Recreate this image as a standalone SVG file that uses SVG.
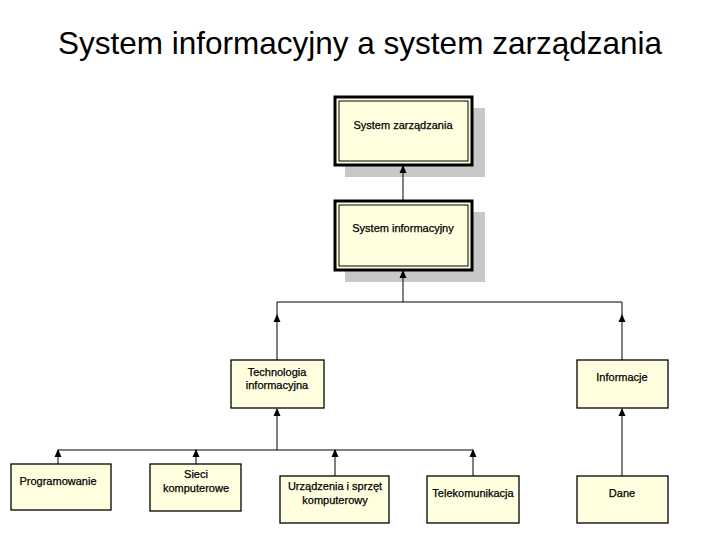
<svg xmlns="http://www.w3.org/2000/svg" width="720" height="540" viewBox="0 0 720 540">
<style>
.b{fill:#ffffe0;stroke:#000;stroke-width:1.3}
.t{font-family:"Liberation Sans",Arial,sans-serif;font-size:11px;text-anchor:middle;fill:#000;stroke:#000;stroke-width:0.25}
.c line{stroke:#000;stroke-width:1}
.c path{fill:#000}
</style>
<rect width="720" height="540" fill="#fff"/>
<text x="360" y="54" font-family="Liberation Sans,Arial,sans-serif" font-size="31.5" text-anchor="middle">System informacyjny a system zarządzania</text>
<g id="n1"><rect x="345" y="108" width="140" height="69" fill="#c8c8c8"/><rect x="335" y="97" width="137" height="68" fill="#ffffe0" stroke="#000" stroke-width="3"/><rect x="339" y="101" width="129" height="60" fill="none" stroke="#000" stroke-width="1"/><text class="t" x="403" y="129">System zarządzania</text></g>
<g id="n2"><rect x="345" y="212" width="140" height="70" fill="#c8c8c8"/><rect x="335" y="201" width="137" height="69" fill="#ffffe0" stroke="#000" stroke-width="3"/><rect x="339" y="205" width="129" height="61" fill="none" stroke="#000" stroke-width="1"/><text class="t" x="403" y="232">System informacyjny</text></g>
<g id="n3"><rect class="b" x="231" y="360" width="93" height="48"/><text class="t" x="277" y="376">Technologia</text><text class="t" x="277" y="389">informacyjna</text></g>
<g id="n4"><rect class="b" x="577" y="360" width="91" height="48"/><text class="t" x="622" y="381">Informacje</text></g>
<g id="n5"><rect class="b" x="11" y="464" width="100" height="46"/><text class="t" x="58" y="485">Programowanie</text></g>
<g id="n6"><rect class="b" x="150" y="464" width="91" height="47"/><text class="t" x="196" y="478">Sieci</text><text class="t" x="196" y="492">komputerowe</text></g>
<g id="n7"><rect class="b" x="280" y="476" width="109" height="47"/><text class="t" x="335" y="490">Urządzenia i sprzęt</text><text class="t" x="335" y="504">komputerowy</text></g>
<g id="n8"><rect class="b" x="427" y="476" width="92" height="47"/><text class="t" x="473" y="497">Telekomunikacja</text></g>
<g id="n9"><rect class="b" x="577" y="476" width="91" height="47"/><text class="t" x="622" y="497">Dane</text></g>
<g class="c">
<line x1="403" y1="201" x2="403" y2="166"/><path d="M403,165 l-3.5,8 h7z"/>
<line x1="403" y1="302" x2="403" y2="271"/><path d="M403,270 l-3.5,8 h7z"/>
<line x1="277" y1="302" x2="622" y2="302"/>
<line x1="277" y1="302" x2="277" y2="360"/><path d="M277,314 l-3.5,8 h7z"/>
<line x1="622" y1="302" x2="622" y2="360"/><path d="M622,314 l-3.5,8 h7z"/>
<line x1="277" y1="450" x2="277" y2="409"/><path d="M277,408 l-3.5,8 h7z"/>
<line x1="58" y1="450" x2="473" y2="450"/>
<line x1="58" y1="450" x2="58" y2="464"/><path d="M58,449 l-3.5,8 h7z"/>
<line x1="196" y1="450" x2="196" y2="464"/><path d="M196,449 l-3.5,8 h7z"/>
<line x1="335" y1="450" x2="335" y2="476"/><path d="M335,449 l-3.5,8 h7z"/>
<line x1="473" y1="450" x2="473" y2="476"/><path d="M473,449 l-3.5,8 h7z"/>
<line x1="622" y1="476" x2="622" y2="409"/><path d="M622,408 l-3.5,8 h7z"/>
</g>
</svg>
